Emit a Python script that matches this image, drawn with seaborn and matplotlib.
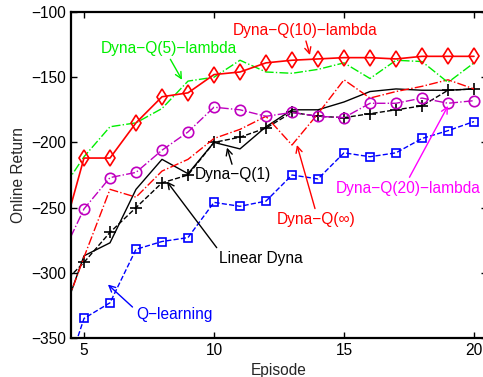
import matplotlib
matplotlib.use("Agg")
import matplotlib.pyplot as plt
import seaborn as sns
import pandas as pd

# episodes (4 is off the left edge, only the line segment into the axes shows)
episodes = [4, 5, 6, 7, 8, 9, 10, 11, 12, 13, 14, 15, 16, 17, 18, 19, 20]

q_learning = [-395, -335, -323, -282, -276, -273, -246, -249, -245, -225, -228, -208, -211, -208, -197, -191, -184]
linear_dyna = [-343, -287, -277, -236, -213, -224, -200, -205, -188, -175, -175, -169, -161, -159, -160, -160, -159]
dyna_q1 = [-312, -292, -269, -250, -231, -225, -200, -196, -189, -177, -180, -181, -178, -175, -172, -160, -159]
dyna_qinf = [-342, -288, -236, -242, -222, -213, -197, -190, -180, -202, -178, -152, -166, -161, -157, -152, -159]
dyna_q20_lam = [-293, -251, -227, -223, -206, -192, -173, -175, -180, -177, -180, -181, -170, -170, -166, -170, -168]
dyna_q5_lam = [-241, -211, -188, -185, -174, -153, -150, -137, -146, -147, -144, -139, -151, -137, -138, -154, -139]
dyna_q10_lam = [-284, -212, -212, -185, -165, -162, -148, -146, -139, -137, -136, -135, -135, -136, -134, -134, -134]

sns.set_style("ticks")
plt.rcParams['font.family'] = ['Liberation Sans', 'DejaVu Sans']
plt.rcParams['font.size'] = 11.2

fig = plt.figure(figsize=(4.83, 3.77), dpi=100)
ax = fig.add_axes([71 / 483, 39 / 377, (487 - 71) / 483, 326 / 377])

df = pd.DataFrame({"Episode": episodes})

sns.lineplot(x=df["Episode"], y=q_learning, ax=ax, color="#0000ff", linestyle="--", lw=1,
             marker="s", markersize=5.5, mfc="none", mec="#0000ff", mew=1.2)
sns.lineplot(x=df["Episode"], y=linear_dyna, ax=ax, color="black", linestyle="-", lw=1)
sns.lineplot(x=df["Episode"], y=dyna_q1, ax=ax, color="black", linestyle="--", lw=1,
             marker="+", markersize=8, mew=1.2, mec="black")
sns.lineplot(x=df["Episode"], y=dyna_qinf, ax=ax, color="#ff0000", linestyle="-.", lw=1)
sns.lineplot(x=df["Episode"], y=dyna_q20_lam, ax=ax, color="#bf00bf", linestyle="-.", lw=1,
             marker="o", markersize=7.5, mfc="none", mec="#bf00bf", mew=1.2)
sns.lineplot(x=df["Episode"], y=dyna_q5_lam, ax=ax, color="#00ee00", linestyle="-.", lw=1)
sns.lineplot(x=df["Episode"], y=dyna_q10_lam, ax=ax, color="#ff0000", linestyle="-", lw=1.2,
             marker="d", markersize=8.5, mfc="none", mec="#ff0000", mew=1.2)

ax.set_xlim(4.5, 20.5)
ax.set_ylim(-350, -100)
ax.set_xticks([5, 10, 15, 20])
ax.set_yticks([-350, -300, -250, -200, -150, -100])
ax.tick_params(direction="in", top=True, right=True, length=4, width=1, labelsize=11.2, colors="black")
for s in ax.spines.values():
    s.set_linewidth(1.6)
    s.set_color("black")
ax.set_xlabel("Episode", fontsize=11.2)
ax.set_ylabel("Online Return", fontsize=11.2)

# annotations
def note(text, xy, xytext, color, relpos=(0.5, 0.5)):
    ax.annotate(text, xy=xy, xytext=xytext, color=color, ha="center", va="center", fontsize=11.2,
                arrowprops=dict(arrowstyle="->", color=color, lw=1, shrinkA=0, shrinkB=0, relpos=relpos))

note("Dyna\u2212Q(10)\u2212lambda", (13.69, -133), (13.5, -114), "#ff0000", (0.5, 0.0))
note("Dyna\u2212Q(5)\u2212lambda", (8.77, -152), (8.25, -128), "#00ee00", (0.5, 0.0))
note("Dyna\u2212Q(20)\u2212lambda", (19.0, -172), (17.45, -235), "#ff00ff", (0.5, 1.0))
note("Dyna\u2212Q(\u221e)", (13.19, -202), (13.92, -259), "#ff0000", (0.5, 1.0))
note("Dyna\u2212Q(1)", (10.5, -204), (10.73, -225), "black", (0.5, 1.0))
note("Linear Dyna", (8.19, -230), (11.81, -289), "black", (0.0, 1.0))
note("Q\u2212learning", (5.92, -309), (8.46, -332), "#0000ff", (0.0, 0.8))

fig.savefig("out.png", dpi=100)
